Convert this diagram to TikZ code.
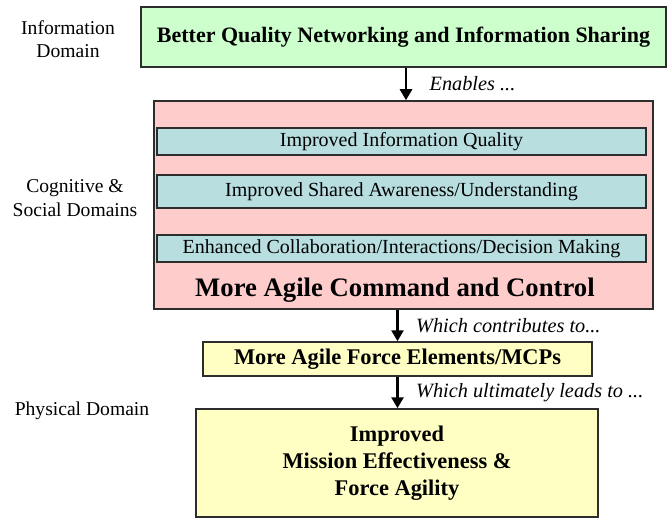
\documentclass[tikz,border=0pt]{standalone}
\usepackage{fontspec}
\setmainfont{Liberation Serif}
\usetikzlibrary{arrows.meta,positioning}
\definecolor{infogreen}{RGB}{204,255,204}
\definecolor{c2pink}{RGB}{255,204,204}
\definecolor{stepcyan}{RGB}{184,222,224}
\definecolor{forceyellow}{RGB}{255,255,196}
\definecolor{edgegray}{RGB}{45,45,45}
\begin{document}
\begin{tikzpicture}[x=1pt,y=-1pt,
  box/.style={draw=edgegray,line width=1.5pt,inner sep=0pt,align=center},
  layerbox/.style={box,fill=stepcyan,minimum width=489,font=\fontsize{20}{22}\selectfont},
  domainlabel/.style={align=center,font=\fontsize{19.6}{23.5}\selectfont},
  flow/.style={line width=2.6pt,-{Triangle[width=12pt,length=11pt]}},
  says/.style={right=14pt,font=\fontsize{20.3}{22}\selectfont\itshape}]
\useasboundingbox (0,0) rectangle (667,519);
% domains
\node[domainlabel] (infodom) at (68,39) {Information\\Domain};
\node[domainlabel] (cogdom) at (75,198) {Cognitive \&\\Social Domains};
\node[domainlabel] (physdom) at (82,411) {Physical Domain};
% boxes
\node[box,fill=infogreen,minimum width=525,minimum height=60,
  font=\fontsize{22}{24}\bfseries] (info) at (403.5,37)
  {Better Quality Networking and Information Sharing};
\node[box,fill=c2pink,minimum width=499,minimum height=208] (cc) at (403.5,205) {};
\node[layerbox,minimum height=27] (iq) at (401.5,141.5) {Improved Information Quality};
\node[layerbox,minimum height=33] (sa) at (401.5,191.5) {Improved Shared Awareness/Understanding};
\node[layerbox,minimum height=27] (ec) at (401.5,248.5) {Enhanced Collaboration/Interactions/Decision Making};
\node[font=\fontsize{26.7}{28}\bfseries] (cclabel) at (395,290) {More Agile Command and Control};
\node[box,fill=forceyellow,minimum width=389,minimum height=34,
  font=\fontsize{22.4}{24}\bfseries] (fe) at (397.5,359) {More Agile Force Elements/MCPs};
\node[box,fill=forceyellow,minimum width=402,minimum height=108,
  font=\fontsize{22.4}{27}\bfseries] (me) at (397,463)
  {Improved\\Mission Effectiveness \&\\Force Agility};
% arrows
\draw[flow] ([xshift=2.5pt]info.south) -- ([xshift=2.5pt]cc.north)
  node[midway,says,right=19pt] {Enables ...};
\draw[flow] (cc.south -| fe.north) -- (fe.north)
  node[midway,says] {Which contributes to...};
\draw[flow] (fe.south) -- (fe.south |- me.north)
  node[midway,says] {Which ultimately leads to ...};
\end{tikzpicture}
\end{document}
